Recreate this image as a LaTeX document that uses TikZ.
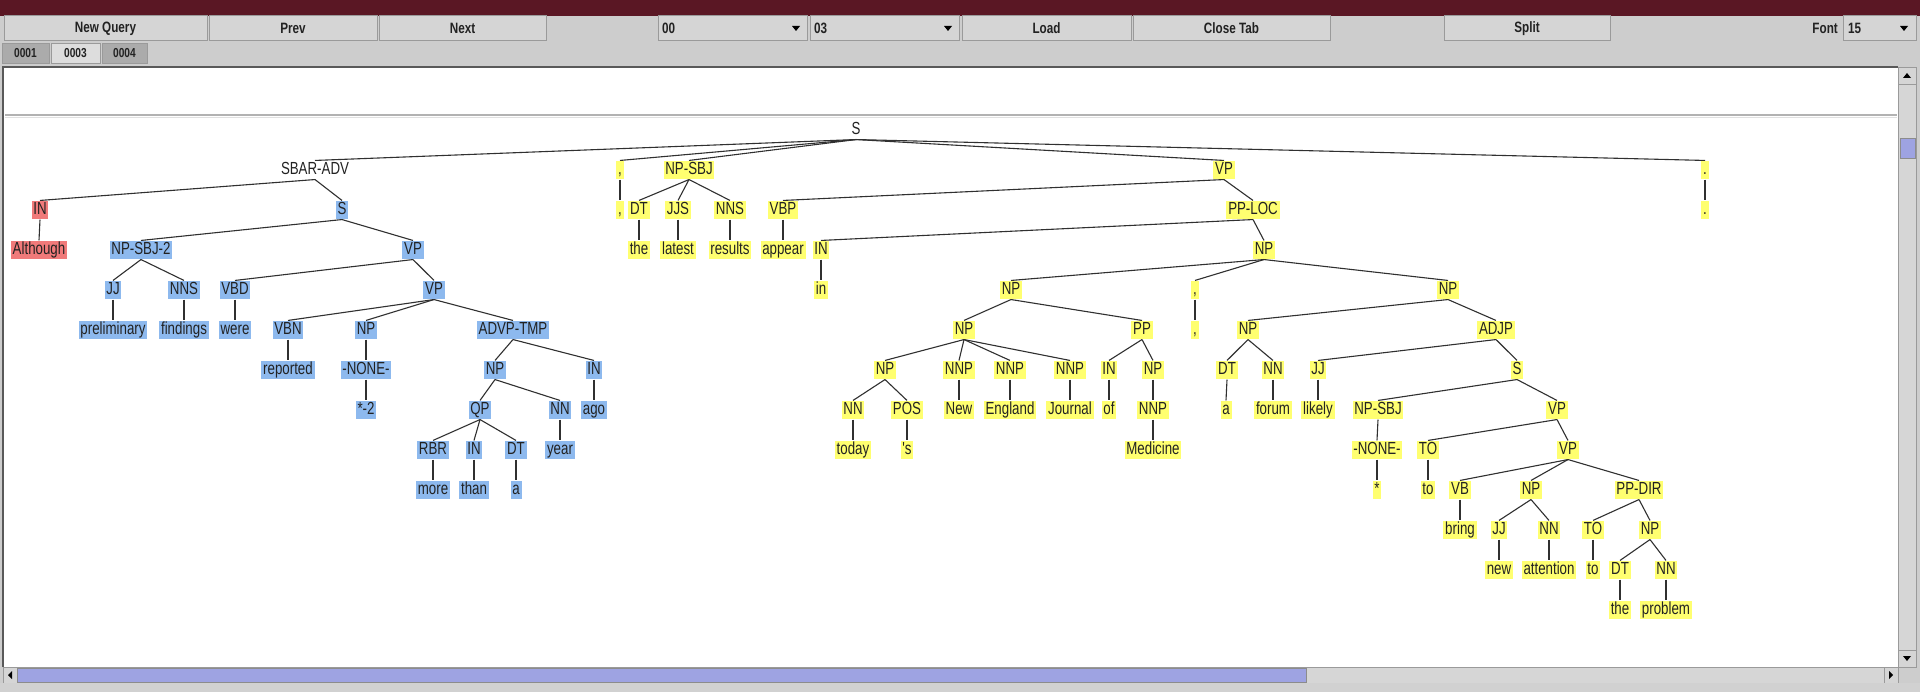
\documentclass[tikz,border=0pt]{standalone}
\usepackage{fontspec}
\setmainfont{Liberation Sans}
\newfontfamily\treefont{Liberation Sans}[FakeStretch=0.76]
\newfontfamily\guifont{Liberation Sans}[FakeStretch=0.78]
\definecolor{barmaroon}{HTML}{5A1724}
\definecolor{panelgray}{HTML}{CDCDCD}
\definecolor{btnface}{HTML}{D5D5D5}
\definecolor{btnshade}{HTML}{9A9A9A}
\definecolor{tabdark}{HTML}{ABABAB}
\definecolor{tablight}{HTML}{DDDDDD}
\definecolor{tagred}{HTML}{F07A7A}
\definecolor{tagblue}{HTML}{8DB9EE}
\definecolor{tagyellow}{HTML}{FFFF70}
\definecolor{thumbblue}{HTML}{9EA3E2}
\definecolor{trackgray}{HTML}{D6D6D6}
\definecolor{inkgray}{HTML}{222222}
\definecolor{edgegray}{HTML}{303030}
\tikzset{
  lbl/.style={font=\treefont\fontsize{17.5}{19}\selectfont, text=inkgray,
    inner xsep=1.8pt, inner ysep=1.2pt, text height=12.5pt, text depth=3.8pt},
  plainlbl/.style={lbl},
  redtag/.style={lbl, fill=tagred},
  bluetag/.style={lbl, fill=tagblue},
  yeltag/.style={lbl, fill=tagyellow},
  branch/.style={draw=edgegray, line width=1.1pt},
  guibtn/.style={draw=btnshade, fill=btnface, line width=1pt, minimum height=25pt,
    font=\guifont\bfseries\fontsize{15}{17}\selectfont, text=inkgray, inner sep=0pt},
  guitab/.style={draw=btnshade, line width=0.8pt, minimum height=20pt,
    font=\guifont\bfseries\fontsize{13}{15}\selectfont, text=inkgray, inner sep=0pt},
  guitext/.style={font=\guifont\bfseries\fontsize{15}{17}\selectfont, text=inkgray, inner sep=0pt},
}
\begin{document}
\begin{tikzpicture}[x=1pt,y=-1pt]
\useasboundingbox (0,0) rectangle (1920,692);
% window chrome
\fill[panelgray] (0,0) rectangle (1920,692);
\fill[barmaroon] (0,0) rectangle (1920,16);

% toolbar
\node[guibtn, minimum width=203pt] (bnew) at (105.5,28.5) {New Query};
\node[guibtn, minimum width=168pt] (bprev) at (293,28.5) {Prev};
\node[guibtn, minimum width=167pt] (bnext) at (462.5,28.5) {Next};
\node[guibtn, minimum width=149pt] (cfirst) at (732.5,28.5) {};
\node[guitext, anchor=west] (cfirsttxt) at (662,28.5) {00};
\node[guibtn, minimum width=149pt] (csecond) at (884.5,28.5) {};
\node[guitext, anchor=west] (csecondtxt) at (814,28.5) {03};
\node[guibtn, minimum width=169pt] (bload) at (1046.5,28.5) {Load};
\node[guibtn, minimum width=197pt] (bclose) at (1231.5,28.5) {Close Tab};
\node[guibtn, minimum width=166pt] (bsplit) at (1527,28.5) {Split};
\node[guitext, anchor=east] (fontlbl) at (1838,28.5) {Font};
\node[guibtn, minimum width=73pt] (cfont) at (1879.5,28.5) {};
\node[guitext, anchor=west] (cfonttxt) at (1848,28.5) {15};
\fill[black] (792,26) -- (800,26) -- (796,31) -- cycle;
\fill[black] (944,26) -- (952,26) -- (948,31) -- cycle;
\fill[black] (1900,26) -- (1908,26) -- (1904,31) -- cycle;

% tabs
\node[guitab, fill=tabdark, minimum width=47pt] (tabone) at (25.5,53) {0001};
\node[guitab, fill=tablight, minimum width=49pt] (tabthree) at (75.5,53) {0003};
\node[guitab, fill=tabdark, minimum width=45pt] (tabfour) at (124.5,53) {0004};

% canvas
\fill[white] (3,67) rectangle (1898,667);
\draw[black!65, line width=2pt] (3,667) -- (3,67) -- (1898,67);
\draw[black!30, line width=2pt] (5,115) -- (1897,115);
\draw[black!12, line width=1pt] (5,117.5) -- (1897,117.5);

% vertical scrollbar
\fill[trackgray] (1898,67) rectangle (1916,667);
\draw[btnshade, line width=0.8pt] (1898,67) rectangle (1916,667);
\draw[btnshade, fill=btnface, line width=0.8pt] (1898,67) rectangle (1916,84);
\fill[black] (1903,78) -- (1911,78) -- (1907,73) -- cycle;
\draw[black!45, fill=thumbblue, line width=0.8pt] (1900,138) rectangle (1915,158);
\draw[btnshade, fill=btnface, line width=0.8pt] (1898,650) rectangle (1916,667);
\fill[black] (1903,656) -- (1911,656) -- (1907,661) -- cycle;

% horizontal scrollbar
\fill[trackgray] (3,667) rectangle (1898,683);
\draw[btnshade, line width=0.8pt] (3,667) rectangle (1898,683);
\draw[btnshade, fill=btnface, line width=0.8pt] (3,667) rectangle (17,683);
\fill[black] (12,671) -- (12,679) -- (8,675) -- cycle;
\draw[black!45, fill=thumbblue, line width=0.8pt] (17,668) rectangle (1306,682);
\draw[btnshade, fill=btnface, line width=0.8pt] (1884,667) rectangle (1898,683);
\fill[black] (1889,671) -- (1889,679) -- (1893,675) -- cycle;
\fill[black!18] (0,683) rectangle (1920,692);

% parse tree: root
\node[plainlbl] (S0) at (856,130) {S};
% SBAR-ADV branch
\node[plainlbl] (sbar) at (315,170) {SBAR-ADV};
\node[redtag] (inA) at (40,210) {IN};
\node[redtag] (although) at (39,250) {Although};
\node[bluetag] (s1) at (342,210) {S};
\node[bluetag] (npsbj2) at (141,250) {NP-SBJ-2};
\node[bluetag] (vp1) at (413,250) {VP};
\node[bluetag] (jj1) at (113,290) {JJ};
\node[bluetag] (nns1) at (184,290) {NNS};
\node[bluetag] (vbd) at (235,290) {VBD};
\node[bluetag] (vp2) at (434,290) {VP};
\node[bluetag] (prelim) at (113,330) {preliminary};
\node[bluetag] (findings) at (184,330) {findings};
\node[bluetag] (were) at (235,330) {were};
\node[bluetag] (vbn) at (288,330) {VBN};
\node[bluetag] (np1) at (366,330) {NP};
\node[bluetag] (advp) at (513,330) {ADVP-TMP};
\node[bluetag] (reported) at (288,370) {reported};
\node[bluetag] (none1) at (366,370) {-NONE-};
\node[bluetag] (np2) at (495,370) {NP};
\node[bluetag] (in2) at (594,370) {IN};
\node[bluetag] (star2) at (366,410) {*-2};
\node[bluetag] (qp) at (480,410) {QP};
\node[bluetag] (nn1) at (560,410) {NN};
\node[bluetag] (ago) at (594,410) {ago};
\node[bluetag] (rbr) at (433,450) {RBR};
\node[bluetag] (in3) at (474,450) {IN};
\node[bluetag] (dt1) at (516,450) {DT};
\node[bluetag] (year) at (560,450) {year};
\node[bluetag] (more) at (433,490) {more};
\node[bluetag] (than) at (474,490) {than};
\node[bluetag] (a1) at (516,490) {a};

% comma, subject and main verb phrase
\node[yeltag] (commaT) at (620,170) {,};
\node[yeltag] (commaW) at (620,210) {,};
\node[yeltag] (npsbj) at (689,170) {NP-SBJ};
\node[yeltag] (dt2) at (639,210) {DT};
\node[yeltag] (jjs) at (678,210) {JJS};
\node[yeltag] (nns2) at (730,210) {NNS};
\node[yeltag] (the1) at (639,250) {the};
\node[yeltag] (latest) at (678,250) {latest};
\node[yeltag] (results) at (730,250) {results};
\node[yeltag] (vp3) at (1224,170) {VP};
\node[yeltag] (vbp) at (783,210) {VBP};
\node[yeltag] (appear) at (783,250) {appear};
\node[yeltag] (pploc) at (1253,210) {PP-LOC};
\node[yeltag] (in4) at (821,250) {IN};
\node[yeltag] (inW) at (821,290) {in};
\node[yeltag] (np3) at (1264,250) {NP};
\node[yeltag] (np4) at (1011,290) {NP};
\node[yeltag] (comma2T) at (1195,290) {,};
\node[yeltag] (comma2W) at (1195,330) {,};
\node[yeltag] (np5) at (1448,290) {NP};
\node[yeltag] (np6) at (964,330) {NP};
\node[yeltag] (pp) at (1142,330) {PP};
\node[yeltag] (np7) at (885,370) {NP};
\node[yeltag] (nnp1) at (959,370) {NNP};
\node[yeltag] (nnp2) at (1010,370) {NNP};
\node[yeltag] (nnp3) at (1070,370) {NNP};
\node[yeltag] (in5) at (1109,370) {IN};
\node[yeltag] (np8) at (1153,370) {NP};
\node[yeltag] (nn2) at (853,410) {NN};
\node[yeltag] (pos) at (907,410) {POS};
\node[yeltag] (new) at (959,410) {New};
\node[yeltag] (england) at (1010,410) {England};
\node[yeltag] (journal) at (1070,410) {Journal};
\node[yeltag] (of) at (1109,410) {of};
\node[yeltag] (nnp4) at (1153,410) {NNP};
\node[yeltag] (today) at (853,450) {today};
\node[yeltag] (poss) at (907,450) {'s};
\node[yeltag] (medicine) at (1153,450) {Medicine};
\node[yeltag] (np9) at (1248,330) {NP};
\node[yeltag] (dt3) at (1227,370) {DT};
\node[yeltag] (nn5) at (1273,370) {NN};
\node[yeltag] (a2) at (1226,410) {a};
\node[yeltag] (forum) at (1273,410) {forum};
\node[yeltag] (adjp) at (1496,330) {ADJP};
\node[yeltag] (jj2) at (1318,370) {JJ};
\node[yeltag] (likely) at (1318,410) {likely};
\node[yeltag] (s2) at (1517,370) {S};
\node[yeltag] (npsbj3) at (1378,410) {NP-SBJ};
\node[yeltag] (none2) at (1377,450) {-NONE-};
\node[yeltag] (star) at (1377,490) {*};
\node[yeltag] (vp4) at (1557,410) {VP};
\node[yeltag] (to1) at (1428,450) {TO};
\node[yeltag] (toW) at (1428,490) {to};
\node[yeltag] (vp5) at (1568,450) {VP};
\node[yeltag] (vb) at (1460,490) {VB};
\node[yeltag] (bring) at (1460,530) {bring};
\node[yeltag] (np10) at (1531,490) {NP};
\node[yeltag] (jj3) at (1499,530) {JJ};
\node[yeltag] (new2) at (1499,570) {new};
\node[yeltag] (nn3) at (1549,530) {NN};
\node[yeltag] (attention) at (1549,570) {attention};
\node[yeltag] (ppdir) at (1639,490) {PP-DIR};
\node[yeltag] (to2) at (1593,530) {TO};
\node[yeltag] (toW2) at (1593,570) {to};
\node[yeltag] (np11) at (1650,530) {NP};
\node[yeltag] (dt4) at (1620,570) {DT};
\node[yeltag] (the2) at (1620,610) {the};
\node[yeltag] (nn4) at (1666,570) {NN};
\node[yeltag] (problem) at (1666,610) {problem};
\node[yeltag] (periodT) at (1705,170) {.};
\node[yeltag] (periodW) at (1705,210) {.};

% branches
\foreach \p/\c in {S0/sbar, S0/commaT, S0/npsbj, S0/vp3, S0/periodT,
  sbar/inA, sbar/s1, inA/although, s1/npsbj2, s1/vp1,
  npsbj2/jj1, npsbj2/nns1, jj1/prelim, nns1/findings,
  vp1/vbd, vp1/vp2, vbd/were, vp2/vbn, vp2/np1, vp2/advp,
  vbn/reported, np1/none1, none1/star2, advp/np2, advp/in2, in2/ago,
  np2/qp, np2/nn1, nn1/year, qp/rbr, qp/in3, qp/dt1,
  rbr/more, in3/than, dt1/a1,
  commaT/commaW, npsbj/dt2, npsbj/jjs, npsbj/nns2,
  dt2/the1, jjs/latest, nns2/results,
  vp3/vbp, vp3/pploc, vbp/appear, pploc/in4, pploc/np3, in4/inW,
  np3/np4, np3/comma2T, np3/np5, comma2T/comma2W,
  np4/np6, np4/pp, np6/np7, np6/nnp1, np6/nnp2, np6/nnp3,
  np7/nn2, np7/pos, nn2/today, pos/poss,
  nnp1/new, nnp2/england, nnp3/journal,
  pp/in5, pp/np8, in5/of, np8/nnp4, nnp4/medicine,
  np5/np9, np5/adjp, np9/dt3, np9/nn5, dt3/a2, nn5/forum,
  adjp/jj2, adjp/s2, jj2/likely, s2/npsbj3, s2/vp4,
  npsbj3/none2, none2/star, vp4/to1, vp4/vp5, to1/toW,
  vp5/vb, vp5/np10, vp5/ppdir, vb/bring,
  np10/jj3, np10/nn3, jj3/new2, nn3/attention,
  ppdir/to2, ppdir/np11, to2/toW2, np11/dt4, np11/nn4,
  dt4/the2, nn4/problem, periodT/periodW}
  \draw[branch] (\p.south) -- (\c.north);
\end{tikzpicture}
\end{document}
